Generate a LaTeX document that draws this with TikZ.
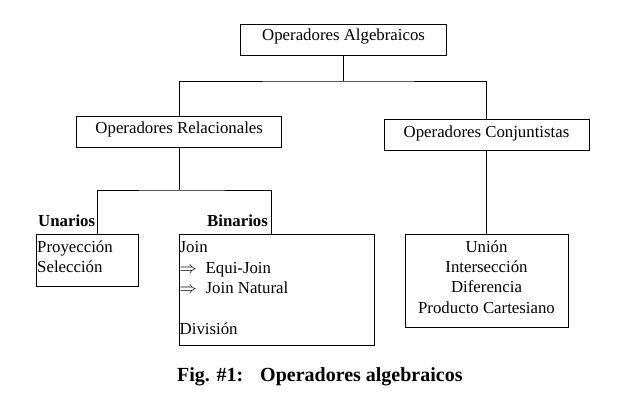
\documentclass[tikz,border=0pt]{standalone}
\usepackage{fontspec}
\setmainfont{Liberation Serif}
\begin{document}
\begin{tikzpicture}[x=1pt,y=-1pt,
  box/.style={draw=black, line width=0.9pt, rectangle, inner sep=0pt},
  txt/.style={inner sep=0pt, font=\fontsize{16.8}{20}\selectfont},
  lbl/.style={inner sep=0pt, font=\fontsize{16.8}{20}\selectfont\bfseries},
  figcaption/.style={inner sep=0pt, font=\fontsize{20}{23}\selectfont\bfseries},
  conn/.style={draw=black, line width=0.9pt}]
\useasboundingbox (0,0) rectangle (636,409);

% boxes
\node[box, minimum width=206pt, minimum height=30.7pt] (alg) at (343.6,39.7) {};
\node[box, minimum width=205pt, minimum height=30.6pt] (rel) at (179.2,132) {};
\node[box, minimum width=205pt, minimum height=31pt] (con) at (486.5,134.5) {};
\node[box, minimum width=102pt, minimum height=52pt] (una) at (87,260.5) {};
\node[box, minimum width=195pt, minimum height=110.5pt] (bin) at (276.5,289.8) {};
\node[box, minimum width=163pt, minimum height=92.5pt] (cjb) at (486.5,280.7) {};

% box titles
\node[txt, anchor=base] (talg) at (343.6,41) {Operadores Algebraicos};
\node[txt, anchor=base] (trel) at (179.2,133.5) {Operadores Relacionales};
\node[txt, anchor=base] (tcon) at (486.5,137) {Operadores Conjuntistas};

% labels
\node[lbl, anchor=base west] (lun) at (38,226.5) {Unarios};
\node[lbl, anchor=base west] (lbi) at (207,226.5) {Binarios};

% unarios contents
\node[txt, anchor=base west] (u1) at (37,252) {Proyección};
\node[txt, anchor=base west] (u2) at (37,272.5) {Selección};

% binarios contents
\node[txt, anchor=base west] (b1) at (179.5,252) {Join};
\node[txt, anchor=base west] (b2a) at (179.5,273) {$\Rightarrow$};
\node[txt, anchor=base west] (b2) at (205.5,273) {Equi-Join};
\node[txt, anchor=base west] (b3a) at (179.5,293.5) {$\Rightarrow$};
\node[txt, anchor=base west] (b3) at (205.5,293.5) {Join Natural};
\node[txt, anchor=base west] (b4) at (179.5,334) {División};

% conjuntistas contents
\node[txt, anchor=base] (c1) at (486.5,252) {Unión};
\node[txt, anchor=base] (c2) at (486.5,272.5) {Intersección};
\node[txt, anchor=base] (c3) at (486.5,292.5) {Diferencia};
\node[txt, anchor=base] (c4) at (486.5,313) {Producto Cartesiano};

% caption
\node[figcaption, anchor=base west] (f1) at (177,381) {Fig. \#1:};
\node[figcaption, anchor=base west] (f2) at (260,381) {Operadores algebraicos};

% connectors
\coordinate (j1) at (343.6,81);
\coordinate (j2) at (179.2,190);
\draw[conn] (alg.south) -- (j1);
\draw[conn] (rel.north) |- (j1) -| (con.north);
\draw[conn] (rel.south) -- (j2);
\draw[conn] ([xshift=10.3pt]una.north) |- (j2) -| ([xshift=-4.8pt]bin.north);
\draw[conn] (con.south) -- (cjb.north);
\end{tikzpicture}
\end{document}
